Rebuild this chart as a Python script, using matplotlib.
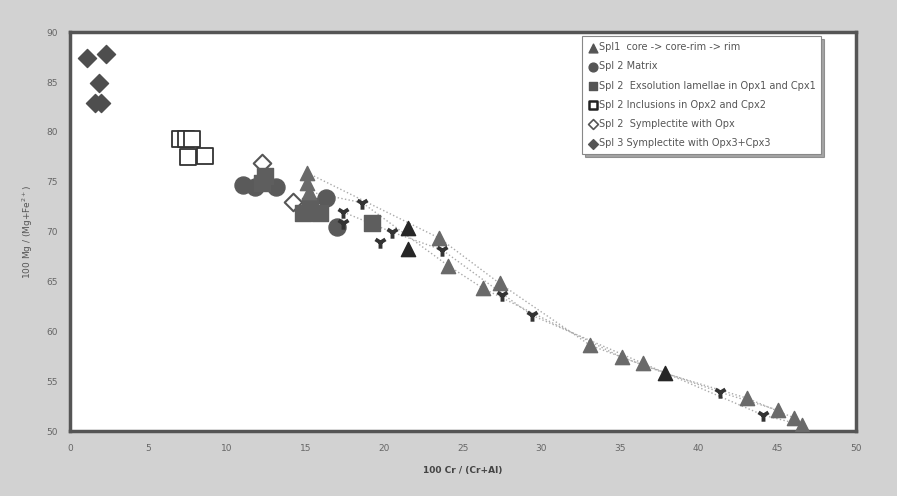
import matplotlib
matplotlib.use('Agg')
import matplotlib.pyplot as plt

# Spl1 core -> core-rim -> rim (up triangles, a few darker ones)
tri_x = [15.1, 15.1, 15.2, 23.5, 24.05, 26.3, 27.35, 33.1, 35.1, 36.45, 43.07, 45.04, 46.1, 46.6]
tri_y = [75.9, 74.9, 74.0, 69.35, 66.6, 64.3, 64.8, 58.6, 57.4, 56.8, 53.3, 52.1, 51.3, 50.6]
tri_dark_x = [21.5, 21.5, 37.85]
tri_dark_y = [70.35, 68.25, 55.8]
# rim points drawn as down "arrow" symbols
rim_x = [18.6, 17.4, 17.4, 19.7, 20.5, 23.7, 27.5, 29.4, 41.35, 44.1]
rim_y = [72.9, 71.95, 70.85, 68.95, 69.95, 68.15, 63.6, 61.6, 53.9, 51.6]

# dotted trend lines core / core-rim / rim
core_x = [15.1, 23.5, 27.35, 33.1, 37.85, 43.07, 46.1]
core_y = [75.9, 69.35, 64.8, 58.6, 55.8, 53.3, 51.3]
crim_x = [15.2, 18.6, 24.05, 26.3, 35.1, 41.35, 45.04]
crim_y = [74.0, 72.9, 66.6, 64.3, 57.4, 53.9, 52.1]
rimline_x = [17.4, 20.5, 23.7, 29.4, 36.45, 44.1, 46.6]
rimline_y = [71.95, 69.95, 68.15, 61.6, 56.8, 51.6, 50.6]

# Spl 2 Matrix
mat_x = [11.0, 11.8, 13.1, 16.3, 17.0]
mat_y = [74.7, 74.5, 74.5, 73.4, 70.5]

# Spl 2 Exsolution lamellae in Opx1 and Cpx1
exs_x = [12.4, 12.2, 14.8, 15.9, 15.3, 19.2]
exs_y = [75.6, 74.9, 71.9, 71.9, 72.6, 70.9]

# Spl 2 Inclusions in Opx2 and Cpx2
inc_x = [7.0, 7.38, 7.76, 7.5, 8.59]
inc_y = [79.3, 79.3, 79.3, 77.5, 77.6]

# Spl 2 Symplectite with Opx
sym2_x = [12.2, 14.2]
sym2_y = [76.9, 73.0]

# Spl 3 Symplectite with Opx3+Cpx3
sym3_x = [1.08, 2.29, 1.84, 1.59, 1.97]
sym3_y = [87.4, 87.8, 84.9, 82.9, 82.9]

fig = plt.figure(figsize=(8.97, 4.96), dpi=100, facecolor='#d2d2d2')
ax = fig.add_axes([0.078, 0.131, 0.876, 0.804])
ax.set_facecolor('white')

for lx, ly in [(core_x, core_y), (crim_x, crim_y), (rimline_x, rimline_y)]:
    ax.plot(lx, ly, color='#aaaaaa', linestyle=':', linewidth=1, zorder=1)

ax.scatter(inc_x, inc_y, marker='s', s=130, facecolors='white', edgecolors='#333333', linewidths=1.3, zorder=2)
ax.scatter(sym2_x, sym2_y, marker='D', s=80, facecolors='white', edgecolors='#555555', linewidths=1.5, zorder=2)
ax.scatter(mat_x, mat_y, marker='o', s=150, color='#5a5a5a', zorder=3)
ax.scatter(exs_x, exs_y, marker='s', s=140, color='#5e5e5e', zorder=3)
ax.scatter(tri_x, tri_y, marker='^', s=105, color='#6a6a6a', zorder=4)
ax.scatter(tri_dark_x, tri_dark_y, marker='^', s=105, color='#262626', zorder=4)
ax.scatter(rim_x, rim_y, marker='1', s=80, color='#333333', linewidths=2.8, zorder=4)
ax.scatter(sym3_x, sym3_y, marker='D', s=85, color='#4e4e4e', zorder=3)

# legend handles
h = []
h.append(ax.scatter([], [], marker='^', s=40, color='#555555', label='Spl1  core -> core-rim -> rim'))
h.append(ax.scatter([], [], marker='o', s=40, color='#555555', label='Spl 2 Matrix'))
h.append(ax.scatter([], [], marker='s', s=40, color='#555555', label='Spl 2  Exsolution lamellae in Opx1 and Cpx1'))
h.append(ax.scatter([], [], marker='s', s=40, facecolors='white', edgecolors='#222222', linewidths=1.8, label='Spl 2 Inclusions in Opx2 and Cpx2'))
h.append(ax.scatter([], [], marker='D', s=25, facecolors='white', edgecolors='#555555', linewidths=1.2, label='Spl 2  Symplectite with Opx'))
h.append(ax.scatter([], [], marker='D', s=25, color='#555555', label='Spl 3 Symplectite with Opx3+Cpx3'))
leg = ax.legend(handles=h, loc='upper left', bbox_to_anchor=(0.652, 0.99), fontsize=7,
                frameon=True, fancybox=False, shadow=True, borderpad=0.6, labelspacing=0.95,
                handletextpad=0.1, handlelength=1.0, borderaxespad=0)
leg.get_frame().set_edgecolor('#888888')
leg.get_frame().set_linewidth(0.8)
for t in leg.get_texts():
    t.set_color('#555555')

ax.set_xlim(0, 50)
ax.set_ylim(50, 90)
ax.set_xticks(range(0, 51, 5))
ax.set_yticks(range(50, 91, 5))
ax.tick_params(length=0, labelsize=6.5, labelcolor='#666666', pad=9)
for s in ax.spines.values():
    s.set_color('#555555')
    s.set_linewidth(2.5)

ax.set_xlabel('100 Cr / (Cr+Al)', fontsize=6.5, fontweight='bold', color='#444444', labelpad=10)
ax.set_ylabel('100 Mg / (Mg+Fe$^{2+}$)', fontsize=6.5, color='#555555', labelpad=8)

plt.savefig('out.png', dpi=100, facecolor=fig.get_facecolor())
